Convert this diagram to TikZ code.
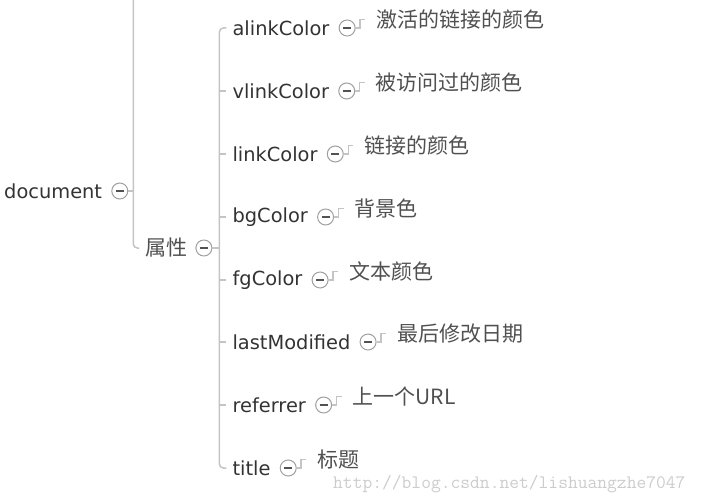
\documentclass[tikz,border=0pt]{standalone}
\usepackage{fontspec}
\setmainfont{DejaVu Sans}
\newfontfamily\cjk{Noto Sans CJK SC}
\usetikzlibrary{positioning}
\definecolor{linegray}{HTML}{C4C4C4}
\definecolor{textgray}{HTML}{333333}
\definecolor{descgray}{HTML}{505050}
\definecolor{btngray}{HTML}{A0A0A0}
\definecolor{wmgray}{HTML}{CCCCCC}
\tikzset{
  prop/.style={inner xsep=6pt, inner ysep=2pt, anchor=west,
    font=\fontsize{19.4}{19.4}\selectfont, text=textgray},
  cjkprop/.style={prop, font=\fontsize{21}{21}\selectfont\cjk, text=descgray},
  desc/.style={inner sep=0pt, anchor=west,
    font=\fontsize{21}{21}\selectfont\cjk, text=descgray},
  btn/.style={circle, draw=btngray, line width=1pt, minimum size=16pt,
    inner sep=0pt, fill=white,
    path picture={\draw[textgray!85, line width=1.7pt]
      ([xshift=-4pt]path picture bounding box.center) --
      ([xshift=4pt]path picture bounding box.center);}},
  branch/.style={draw=linegray, line width=1.5pt},
  watermark/.style={inner sep=0pt, anchor=west,
    font=\fontsize{19}{19}\selectfont\ttfamily, text=wmgray},
}
\begin{document}
\begin{tikzpicture}[x=1pt,y=-1pt]
\useasboundingbox (0,0) rectangle (706,503);
% root and its button
\node[prop] (doc) at (-2,191) {document};
\node[btn, right=3pt of doc] (docbtn) {};
\coordinate (spine) at ([xshift=5pt]docbtn.east);
\coordinate (top) at (spine |- 0,0);
\node[cjkprop] (attr) at (139,248) {属性};
\node[btn, right=2pt of attr] (attrbtn) {};
\coordinate (fork) at ([xshift=7pt]attrbtn.east);
% properties
\foreach \i/\y/\pname/\ptext in {
  1/28/alinkColor/激活的链接的颜色,
  2/91/vlinkColor/被访问过的颜色,
  3/154/linkColor/链接的颜色,
  4/217/bgColor/背景色,
  5/280/fgColor/文本颜色,
  6/342/lastModified/最后修改日期,
  7/405/referrer/上一个URL,
  8/468/title/标题%
}{
  \node[prop] (p\i) at ([xshift=7pt]fork |- 0,\y) {\pname};
  \node[btn, right=3pt of p\i] (b\i) {};
  \node[desc] (d\i) at ([xshift=20.5pt, yshift=8.5pt]b\i.east) {\ptext};
  \draw[branch] (b\i.east) -- ++(4.5,0) |- ([xshift=-11pt]d\i.west);
}
% branches
\draw[branch] (docbtn.east) -- (spine);
\draw[branch, rounded corners=4pt] (top) -- (spine) |- (attr.west);
\draw[branch] (attrbtn.east) -- (fork);
\draw[branch, rounded corners=4pt] (p1.west) -| (fork) |- (p8.west);
\foreach \i in {2,...,7}
  \draw[branch] (fork |- p\i.west) -- (p\i.west);
\node[watermark] (wm) at (333,484) {http://blog.csdn.net/lishuangzhe7047};
\end{tikzpicture}
\end{document}
